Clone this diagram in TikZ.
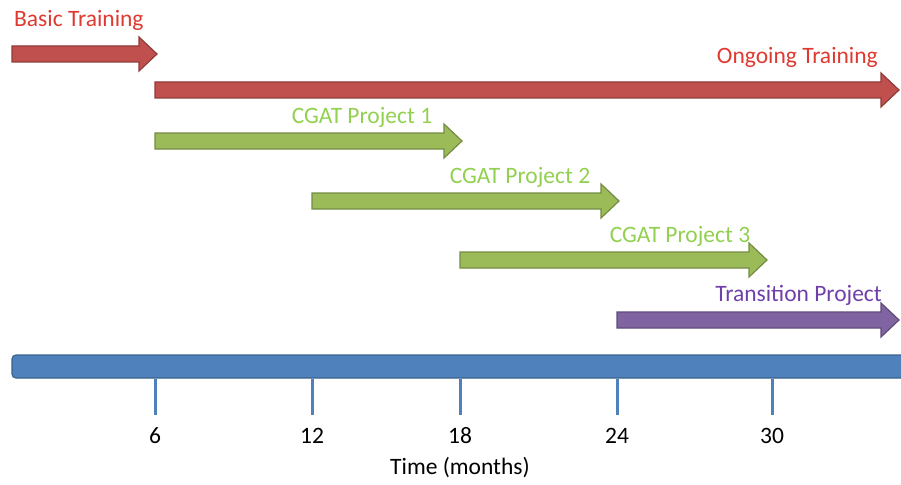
\documentclass[tikz,border=0pt]{standalone}
\usepackage{fontspec}
\setmainfont{Carlito}
\definecolor{redbar}{RGB}{192,80,77}
\definecolor{greenbar}{RGB}{155,187,89}
\definecolor{purplebar}{RGB}{128,100,162}
\definecolor{bluebar}{RGB}{79,129,189}
\definecolor{redtext}{RGB}{222,58,48}
\definecolor{greentext}{RGB}{146,208,80}
\definecolor{purpletext}{RGB}{112,64,170}
\tikzset{
  label/.style={font=\fontsize{23.5}{28}\selectfont, inner sep=0pt},
  tick/.style={draw=bluebar, line width=3pt}
}
\begin{document}
\begin{tikzpicture}[x=1pt,y=-1pt]
\useasboundingbox (0,0) rectangle (901,484);
% activity arrows: start/tip/centre/colour
\foreach \a/\b/\y/\c in {12/157/54/redbar,155/899/90/redbar,155/462/141/greenbar,
                         312/619/201/greenbar,460/767/260/greenbar,617/899/320/purplebar} {
  \filldraw[fill=\c, draw=\c!75!black, line width=1.2pt, line join=miter]
    (\a,\y-8) -- (\b-18,\y-8) -- (\b-18,\y-17) -- (\b,\y) -- (\b-18,\y+17)
    -- (\b-18,\y+8) -- (\a,\y+8) -- cycle;
}
\node[label, text=redtext, anchor=west] (basic) at (14,20) {Basic Training};
\node[label, text=redtext, anchor=east] (ongoing) at (878,57) {Ongoing Training};
\node[label, text=greentext] (cgat1) at (362,117) {CGAT Project 1};
\node[label, text=greentext] (cgat2) at (520,177) {CGAT Project 2};
\node[label, text=greentext] (cgat3) at (680,236) {CGAT Project 3};
\node[label, text=purpletext, anchor=east] (trans) at (882,295) {Transition Project};
% time axis
\filldraw[fill=bluebar, draw=bluebar!75!black, line width=1.2pt, rounded corners=4pt]
  (12,355) rectangle (915,378);
\foreach \x/\t in {155/6,312/12,460/18,617/24,772/30} {
  \coordinate (T\t) at (\x,379);
  \draw[tick] (T\t) -- ++(0,36);
  \node[label] (L\t) at (\x,436) {\t};
}
\node[label] (time) at (460,468) {Time (months)};
\end{tikzpicture}
\end{document}
